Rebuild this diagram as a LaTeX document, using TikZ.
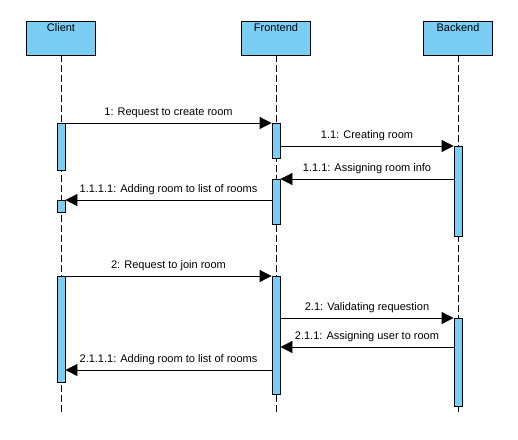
\documentclass[tikz,border=0pt]{standalone}
\usepackage{fontspec}
\setmainfont{Liberation Sans}
\usetikzlibrary{arrows.meta}

\definecolor{lifeblue}{RGB}{122,206,244}

\tikzset{
  actor/.style={draw, fill=lifeblue, line width=0.8pt, minimum width=69pt,
    inner ysep=2pt, text height=8pt, text depth=22pt},
  act/.style={draw, fill=lifeblue, line width=0.8pt, minimum width=8pt,
    inner sep=0pt, anchor=north},
  lifeline/.style={line width=0.8pt, dash pattern=on 7pt off 3pt},
  msg/.style={line width=0.8pt, -{Triangle[length=12pt,width=12pt]}},
  msglabel/.style={midway, anchor=base, yshift=8pt},
}

\begin{document}
\begin{tikzpicture}[x=1pt, y=-1pt, font=\fontsize{11}{13}\selectfont]
  \useasboundingbox (0,0) rectangle (518,439);

  % participants
  \node[actor] (client) at (61,38) {Client};
  \node[actor] (front) at (276,38) {Frontend};
  \node[actor] (back) at (458,38) {Backend};

  % lifelines
  \draw[lifeline] (client.south) -- (client.south |- 0,414);
  \draw[lifeline] (front.south) -- (front.south |- 0,414);
  \draw[lifeline] (back.south) -- (back.south |- 0,414);

  % activations
  \node[act, minimum height=47pt] (ca) at (61,123) {};
  \node[act, minimum height=12pt] (cb) at (61,200) {};
  \node[act, minimum height=106pt] (cc) at (61,276) {};
  \node[act, minimum height=35pt] (fa) at (276,123) {};
  \node[act, minimum height=45pt] (fb) at (276,179) {};
  \node[act, minimum height=118pt] (fc) at (276,276) {};
  \node[act, minimum height=90pt] (ba) at (458,146) {};
  \node[act, minimum height=88pt] (bb) at (458,318) {};

  \coordinate (m211) at (0,347);
  \coordinate (m2111) at (0,370);

  % messages
  \draw[msg] (ca.north east) -- (fa.north west) node[msglabel] {1: Request to create room};
  \draw[msg] (fa.east |- ba.north) -- (ba.north west) node[msglabel] {1.1: Creating room};
  \draw[msg] (ba.west |- fb.north) -- (fb.north east) node[msglabel] {1.1.1: Assigning room info};
  \draw[msg] (fb.west |- cb.north) -- (cb.north east) node[msglabel] {1.1.1.1: Adding room to list of rooms};
  \draw[msg] (cc.north east) -- (fc.north west) node[msglabel] {2: Request to join room};
  \draw[msg] (fc.east |- bb.north) -- (bb.north west) node[msglabel] {2.1: Validating requestion};
  \draw[msg] (bb.west |- m211) -- (fc.east |- m211) node[msglabel] {2.1.1: Assigning user to room};
  \draw[msg] (fc.west |- m2111) -- (cc.east |- m2111) node[msglabel] {2.1.1.1: Adding room to list of rooms};
\end{tikzpicture}
\end{document}
